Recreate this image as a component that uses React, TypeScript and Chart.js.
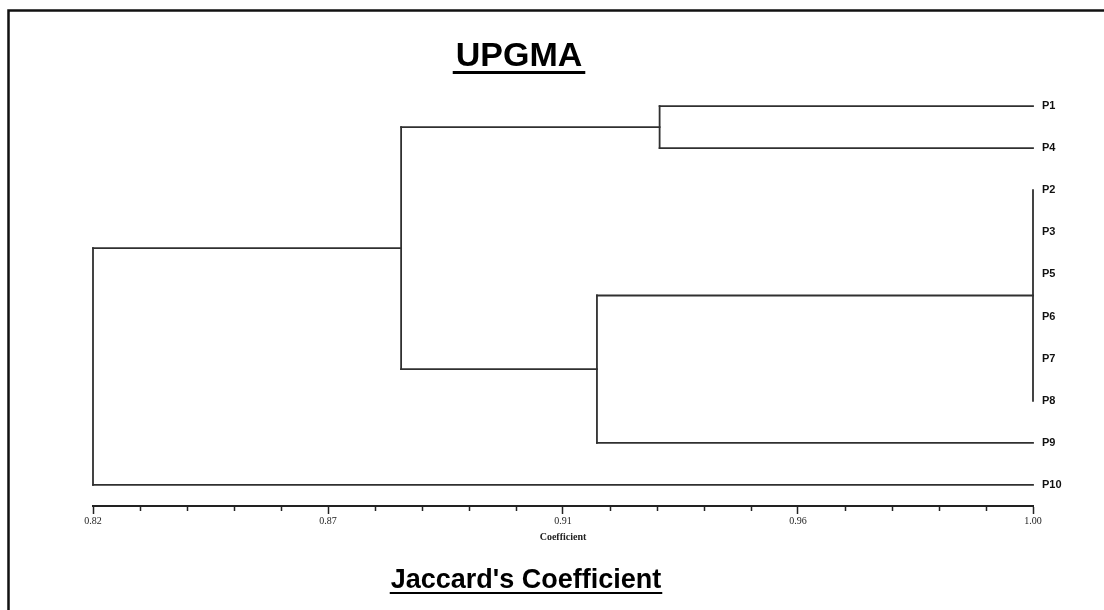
import React, { useEffect, useRef } from "react";
import { Chart, registerables } from "chart.js";

Chart.register(...registerables);

// Leaf order (top to bottom)
const LEAVES = ["P1", "P4", "P2", "P3", "P5", "P6", "P7", "P8", "P9", "P10"];
// Clusters: id, children (leaf names or cluster ids), similarity level
const CLUSTER_IDS = ["C1", "C2", "C3", "C4", "C5"];
const CLUSTER_CHILDREN = [
  ["P1", "P4"],
  ["P2", "P3", "P5", "P6", "P7", "P8"],
  ["C2", "P9"],
  ["C1", "C3"],
  ["C4", "P10"],
];
const CLUSTER_LEVELS = [0.9285, 1.0, 0.9165, 0.879, 0.82];
const LEAF_LEVEL = 1.0;

// Axis
const X_MIN = 0.82;
const X_MAX = 1.0;
const TICK_STEP = 0.009;
const TICK_COUNT = 21;
const MAJOR_EVERY = 5;
const TICK_LABELS = ["0.82", "0.87", "0.91", "0.96", "1.00"];

const TITLE = "UPGMA";
const BOTTOM_TITLE = "Jaccard's Coefficient";
const AXIS_TITLE = "Coefficient";

const LINE = "#303030";

type Pt = { x: number; y: number };

function buildSegments(): Pt[][] {
  const pos: Record<string, { x: number; y: number }> = {};
  LEAVES.forEach((l, i) => (pos[l] = { x: LEAF_LEVEL, y: i }));
  const segs: Pt[][] = [];
  CLUSTER_IDS.forEach((id, ci) => {
    const lvl = CLUSTER_LEVELS[ci];
    const kids = CLUSTER_CHILDREN[ci].map((k) => pos[k]);
    const ys = kids.map((k) => k.y);
    const y0 = Math.min(...ys);
    const y1 = Math.max(...ys);
    segs.push([
      { x: lvl, y: y0 },
      { x: lvl, y: y1 },
    ]);
    kids.forEach((k) => {
      if (k.x !== lvl)
        segs.push([
          { x: lvl, y: k.y },
          { x: k.x, y: k.y },
        ]);
    });
    pos[id] = { x: lvl, y: (y0 + y1) / 2 };
  });
  return segs;
}

const decor = {
  id: "decor",
  afterDraw(chart: any) {
    const { ctx, chartArea } = chart;
    const xs = chart.scales.x;
    ctx.save();
    // minor ticks
    ctx.strokeStyle = "#222";
    ctx.lineWidth = 1.5;
    xs.ticks.forEach((t: any, i: number) => {
      if (i % MAJOR_EVERY === 0) return;
      const px = Math.round(xs.getPixelForValue(t.value)) + 0.5;
      ctx.beginPath();
      ctx.moveTo(px, chartArea.bottom);
      ctx.lineTo(px, chartArea.bottom + 5);
      ctx.stroke();
    });
    // frame
    ctx.strokeStyle = "#111";
    ctx.lineWidth = 2.5;
    ctx.beginPath();
    ctx.moveTo(8.5, 700);
    ctx.lineTo(8.5, 10.5);
    ctx.lineTo(1200, 10.5);
    ctx.stroke();
    // titles
    ctx.fillStyle = "#000";
    ctx.textAlign = "center";
    ctx.textBaseline = "alphabetic";
    ctx.font = "bold 34px 'Liberation Sans', Arial, sans-serif";
    let w = ctx.measureText(TITLE).width;
    ctx.fillText(TITLE, 519, 66);
    ctx.fillRect(519 - w / 2 - 3, 71, w + 6, 3);
    ctx.font = "bold 27px 'Liberation Sans', Arial, sans-serif";
    w = ctx.measureText(BOTTOM_TITLE).width;
    ctx.fillText(BOTTOM_TITLE, 526, 588);
    ctx.fillRect(526 - w / 2 - 1, 592, w + 2, 2);
    ctx.restore();
  },
};

export default function App() {
  const ref = useRef<HTMLCanvasElement>(null);
  useEffect(() => {
    const segs = buildSegments();
    const chart = new Chart(ref.current as HTMLCanvasElement, {
      type: "scatter",
      data: {
        datasets: segs.map((s) => ({
          data: s,
          showLine: true,
          borderColor: LINE,
          borderWidth: 1.8,
          pointRadius: 0,
          pointHoverRadius: 0,
          borderCapStyle: "square",
          fill: false,
          clip: false,
        })),
      },
      options: {
        animation: false,
        responsive: false,
        maintainAspectRatio: false,
        events: [],
        layout: { padding: { top: 85, left: 93, right: 0, bottom: 0 } },
        plugins: {
          legend: { display: false },
          tooltip: { enabled: false },
          title: { display: false },
        },
        scales: {
          x: {
            type: "linear",
            position: "bottom",
            min: X_MIN,
            max: X_MAX,
            afterBuildTicks: (s: any) => {
              s.ticks = Array.from({ length: TICK_COUNT }, (_, i) => ({
                value: X_MIN + i * TICK_STEP,
              }));
            },
            ticks: {
              autoSkip: false,
              maxRotation: 0,
              minRotation: 0,
              padding: 1,
              color: "#222",
              font: { family: "'Liberation Serif', serif", size: 10 },
              callback: (_v: any, i: number) =>
                i % MAJOR_EVERY === 0 ? TICK_LABELS[i / MAJOR_EVERY] : "",
            },
            grid: {
              display: true,
              drawOnChartArea: false,
              drawTicks: true,
              tickLength: 8,
              tickWidth: 1.5,
              tickColor: (c: any) =>
                c.index % MAJOR_EVERY === 0 ? "#222" : "rgba(0,0,0,0)",
            },
            border: { display: true, color: "#222", width: 2 },
            title: {
              display: true,
              text: AXIS_TITLE,
              color: "#222",
              font: { family: "'Liberation Serif', serif", size: 10, weight: "bold" },
              padding: { top: 0, bottom: 67 },
            },
            afterFit: (s: any) => {
              s.height = 104;
            },
          },
          y: {
            type: "linear",
            position: "right",
            reverse: true,
            min: -0.5,
            max: 9.5,
            afterBuildTicks: (s: any) => {
              s.ticks = LEAVES.map((_, i) => ({ value: i }));
            },
            ticks: {
              autoSkip: false,
              padding: 9,
              color: "#111",
              font: { family: "'Liberation Sans', Arial, sans-serif", size: 11, weight: "bold" },
              callback: (v: any) => LEAVES[Math.round(Number(v))],
            },
            grid: { display: false, drawTicks: false },
            border: { display: false },
            afterFit: (s: any) => {
              s.width = 71;
            },
          },
        },
      } as any,
      plugins: [decor],
    });
    return () => chart.destroy();
  }, []);
  return (
    <div style={{ position: "absolute", left: 0, top: 0, width: 1104, height: 610, background: "#fff" }}>
      <canvas ref={ref} width={1104} height={610} style={{ width: 1104, height: 610, display: "block" }} />
    </div>
  );
}
